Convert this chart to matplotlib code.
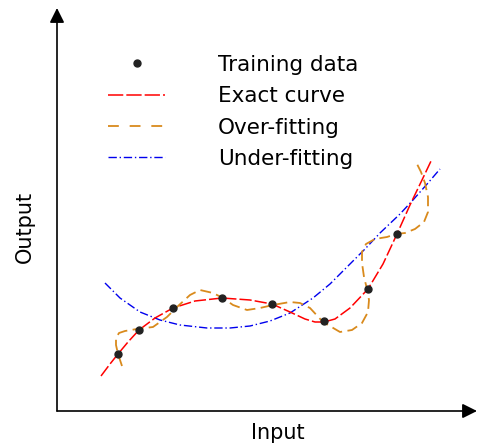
import matplotlib
matplotlib.use("Agg")
import matplotlib.pyplot as plt
from matplotlib.lines import Line2D

# training samples
x_train = [1.525, 2.05, 2.9, 4.125, 5.375, 6.675, 7.775, 8.5]
y_train = [1.425, 2.025, 2.575, 2.825, 2.675, 2.25, 3.05, 4.425]

# exact curve
x_exact = [1.1, 1.325, 1.525, 1.775, 2.05, 2.45, 2.9, 3.45, 4.125, 4.825, 5.375,
           5.825, 6.2, 6.45, 6.675, 6.95, 7.325, 7.775, 8.15, 8.5, 8.825, 9.125, 9.375]
y_exact = [0.875, 1.175, 1.425, 1.725, 2.025, 2.325, 2.575, 2.75, 2.825, 2.775, 2.675,
           2.475, 2.3, 2.225, 2.225, 2.3, 2.575, 3.05, 3.675, 4.425, 5.15, 5.775, 6.3]

# over-fitting curve
x_over = [1.625, 1.575, 1.525, 1.475, 1.475, 1.55, 1.7, 2.0, 2.4, 2.75, 3.0, 3.325,
          3.575, 3.9, 4.15, 4.4, 4.75, 5.075, 5.4, 5.825, 6.075, 6.325, 6.65, 7.075,
          7.375, 7.625, 7.775, 7.8, 7.75, 7.675, 7.625, 7.625, 7.725, 7.95, 8.25,
          8.475, 8.7, 8.95, 9.175, 9.275, 9.275, 9.2, 9.1, 8.95]
y_over = [1.125, 1.275, 1.425, 1.65, 1.825, 1.95, 2.0, 2.05, 2.1, 2.35, 2.6, 2.9,
          3.025, 2.95, 2.825, 2.65, 2.525, 2.575, 2.65, 2.725, 2.7, 2.575, 2.225, 1.975,
          2.025, 2.2, 2.475, 2.775, 3.05, 3.35, 3.7, 3.975, 4.175, 4.3, 4.35,
          4.425, 4.45, 4.55, 4.725, 4.975, 5.35, 5.7, 5.975, 6.275]

# under-fitting curve
x_under = [1.2, 1.575, 2.075, 2.575, 3.075, 3.75, 4.325, 4.825, 5.325, 5.825, 6.4,
           6.825, 7.25, 7.7, 8.075, 8.575, 8.9, 9.275, 9.575]
y_under = [3.2, 2.825, 2.475, 2.275, 2.15, 2.075, 2.075, 2.125, 2.25, 2.45, 2.825,
           3.175, 3.6, 4.05, 4.45, 4.925, 5.275, 5.7, 6.05]

labels = ["Training data", "Exact curve", "Over-fitting", "Under-fitting"]

plt.rcParams['font.family'] = 'DejaVu Sans'
fig = plt.figure(figsize=(4.79, 4.45), dpi=100)
ax = fig.add_axes([0, 0, 1, 1])
ax.set_xlim(-1.425, 10.55)
ax.set_ylim(-0.85, 10.275)
ax.axis('off')

red, orange, blue = '#ff0000', '#d98a1c', '#0000ee'

ax.plot(x_under, y_under, color=blue, lw=1.0, dashes=(6, 2, 1, 2))
ax.plot(x_exact, y_exact, color=red, lw=1.1, dashes=(8, 2))
ax.plot(x_over, y_over, color=orange, lw=1.3, dashes=(6, 3))
ax.plot(x_train, y_train, 'o', color='#222222', ms=5, zorder=5)

# axes arrows
arrow = dict(arrowstyle='-|>', color='black', lw=1.2, mutation_scale=22, shrinkA=0, shrinkB=0)
ax.annotate('', xy=(10.5, 0), xytext=(0, 0), arrowprops=arrow)
ax.annotate('', xy=(0, 10.075), xytext=(0, 0), arrowprops=arrow)
ax.text(5.53, -0.55, 'Input', fontsize=15, ha='center', va='center')
ax.text(-0.8, 4.6, 'Output', fontsize=15, ha='center', va='center', rotation=90)

handles = [
    Line2D([], [], ls='none', marker='o', color='#222222', ms=5),
    Line2D([], [], color=red, lw=1.1, dashes=(10, 2)),
    Line2D([], [], color=orange, lw=1.3, dashes=(6, 6)),
    Line2D([], [], color=blue, lw=1.0, dashes=(6, 2, 1, 2)),
]
ax.legend(handles, labels, loc='upper left', bbox_to_anchor=(0.2255, 0.877),
          frameon=False, fontsize=15.5, handlelength=2.65, handletextpad=2.45,
          labelspacing=0.53, borderpad=0, borderaxespad=0)

fig.savefig('out.png', dpi=100)
